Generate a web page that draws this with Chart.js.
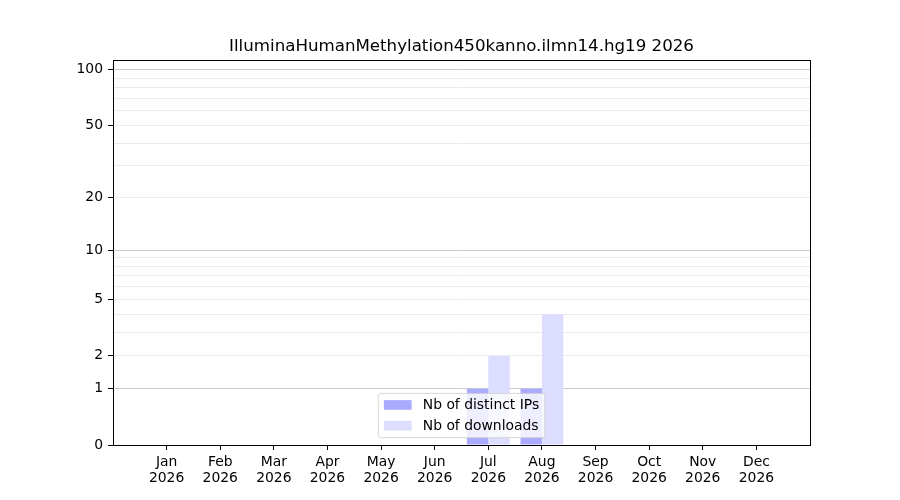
<!DOCTYPE html>
<html><head><meta charset="utf-8">
<script src="https://cdn.jsdelivr.net/npm/chart.js@4.4.1/dist/chart.umd.min.js"></script>
<style>html,body{margin:0;padding:0;background:#fff}#wrap{width:900px;height:500px;position:relative}</style>
</head><body><div id="wrap"><canvas id="c"></canvas></div>
<script>
const chartTitle = 'IlluminaHumanMethylation450kanno.ilmn14.hg19 2026';
const months = ['Jan','Feb','Mar','Apr','May','Jun','Jul','Aug','Sep','Oct','Nov','Dec'];
const year = '2026';
const distinctIPs = [0,0,0,0,0,0,1,1,0,0,0,0];
const downloads = [0,0,0,0,0,0,2,4,0,0,0,0];
const yTickValues = [0,1,2,3,4,5,6,7,8,9,10,20,30,40,50,60,70,80,90,100];
const yTickLabels = [0,1,2,5,10,20,50,100];
const yMajorGrid = [1,10,100];
const yMax = 113;
const seriesLabels = ['Nb of distinct IPs','Nb of downloads'];
const seriesColors = ['#aaaaff','#ddddff'];

const FONT = 'DejaVu Sans';
const FS = 13.9;
Chart.defaults.font.family = FONT;
Chart.defaults.font.size = FS;
Chart.defaults.color = '#000';

class Log1pScale extends Chart.LinearScale {
  determineDataLimits() {
    this.min = this.options.min;
    this.max = this.options.max;
  }
  buildTicks() {
    return yTickValues.map(v => ({ value: v }));
  }
  configure() {
    super.configure();
    this._lo = Math.log10(1 + this.min);
    this._hi = Math.log10(1 + this.max);
  }
  getPixelForValue(v) {
    const t = Math.log10(1 + Math.max(v, 0));
    return this.getPixelForDecimal((t - this._lo) / (this._hi - this._lo));
  }
  getValueForPixel(p) {
    const d = this.getDecimalForPixel(p);
    return Math.pow(10, this._lo + d * (this._hi - this._lo)) - 1;
  }
}
Log1pScale.id = 'log1p';
Log1pScale.defaults = {};
Chart.register(Log1pScale);

const mplFrame = {
  id: 'mplFrame',
  afterDatasetsDraw(chart) {
    const { ctx, chartArea: a } = chart;
    ctx.save();
    ctx.strokeStyle = '#000';
    ctx.lineWidth = 1;
    ctx.strokeRect(Math.round(a.left) + 0.5, Math.round(a.top) + 0.5,
      Math.round(a.right - a.left), Math.round(a.bottom - a.top));
    ctx.restore();
  }
};

const mplLegend = {
  id: 'mplLegend',
  afterDraw(chart) {
    const { ctx, chartArea: a } = chart;
    ctx.save();
    ctx.font = FS + 'px "' + FONT + '"';
    const pad = 0.4 * FS, hl = 2.0 * FS, htp = 0.8 * FS, rowH = 20.7, sh = 0.7 * FS;
    const tw = Math.max(...chart.data.datasets.map(d => ctx.measureText(d.label).width));
    const w = pad + hl + htp + tw + pad;
    const n = chart.data.datasets.length;
    const firstRow = pad + 6.05;
    const h = firstRow * 2 + rowH * (n - 1) + 0.4;
    const x = (a.left + a.right) / 2 - w / 2;
    const y = a.bottom - 7.3 - h;
    const r = 2.5;
    ctx.beginPath();
    ctx.moveTo(x + r, y);
    ctx.arcTo(x + w, y, x + w, y + h, r);
    ctx.arcTo(x + w, y + h, x, y + h, r);
    ctx.arcTo(x, y + h, x, y, r);
    ctx.arcTo(x, y, x + w, y, r);
    ctx.closePath();
    ctx.fillStyle = 'rgba(255,255,255,0.8)';
    ctx.fill();
    ctx.strokeStyle = 'rgba(204,204,204,0.8)';
    ctx.lineWidth = 1;
    ctx.stroke();
    chart.data.datasets.forEach((d, i) => {
      const cy = y + firstRow + i * rowH;
      ctx.fillStyle = d.backgroundColor;
      ctx.fillRect(x + pad, cy - sh / 2, hl, sh);
      ctx.fillStyle = '#000';
      ctx.textBaseline = 'middle';
      ctx.textAlign = 'left';
      ctx.fillText(d.label, x + pad + hl + htp, cy + 0.5);
    });
    ctx.restore();
  }
};

const ds = [distinctIPs, downloads].map((vals, i) => ({
  label: seriesLabels[i],
  data: vals.map((v, j) => ({ x: j, y: v })),
  backgroundColor: seriesColors[i],
  borderWidth: 0,
  categoryPercentage: 0.8,
  barPercentage: 1.0
}));

new Chart(document.getElementById('c'), {
  type: 'bar',
  data: { datasets: ds },
  options: {
    responsive: true,
    maintainAspectRatio: false,
    animation: false,
    layout: { padding: { left: 0, right: 90, top: 0, bottom: 0 } },
    plugins: {
      legend: { display: false },
      tooltip: { enabled: false },
      title: {
        display: true, text: chartTitle, fullSize: false, color: '#000',
        font: { family: FONT, size: 16.67, weight: 'normal', lineHeight: 1.2 },
        padding: { top: 37, bottom: 3 }
      }
    },
    scales: {
      x: {
        type: 'linear', min: -1, max: 12, offset: false,
        afterBuildTicks: s => { s.ticks = months.map((m, i) => ({ value: i })); },
        afterFit: s => { s.height = 55; },
        ticks: {
          autoSkip: false, maxRotation: 0, padding: 4, color: '#000',
          font: { family: FONT, size: FS, lineHeight: 1.15 },
          callback: v => [months[v], year]
        },
        grid: { offset: false, drawOnChartArea: false, drawTicks: true, tickLength: 5, tickColor: '#000', tickWidth: 1 },
        border: { display: false }
      },
      y: {
        type: 'log1p', min: 0, max: yMax,
        afterFit: s => { s.width = 113; },
        ticks: {
          autoSkip: false, padding: 5, color: '#000',
          font: { family: FONT, size: FS },
          callback: v => yTickLabels.includes(v) ? String(v) : ''
        },
        grid: {
          drawTicks: true, tickLength: 5, lineWidth: 1,
          color: c => (c.tick && yMajorGrid.includes(c.tick.value)) ? '#cccccc' : (c.tick && c.tick.value === 0 ? 'rgba(0,0,0,0)' : '#ebebeb'),
          tickColor: c => (c.tick && yTickLabels.includes(c.tick.value)) ? '#000' : 'rgba(0,0,0,0)'
        },
        border: { display: false }
      }
    }
  },
  plugins: [mplFrame, mplLegend]
});
</script>
</body></html>
